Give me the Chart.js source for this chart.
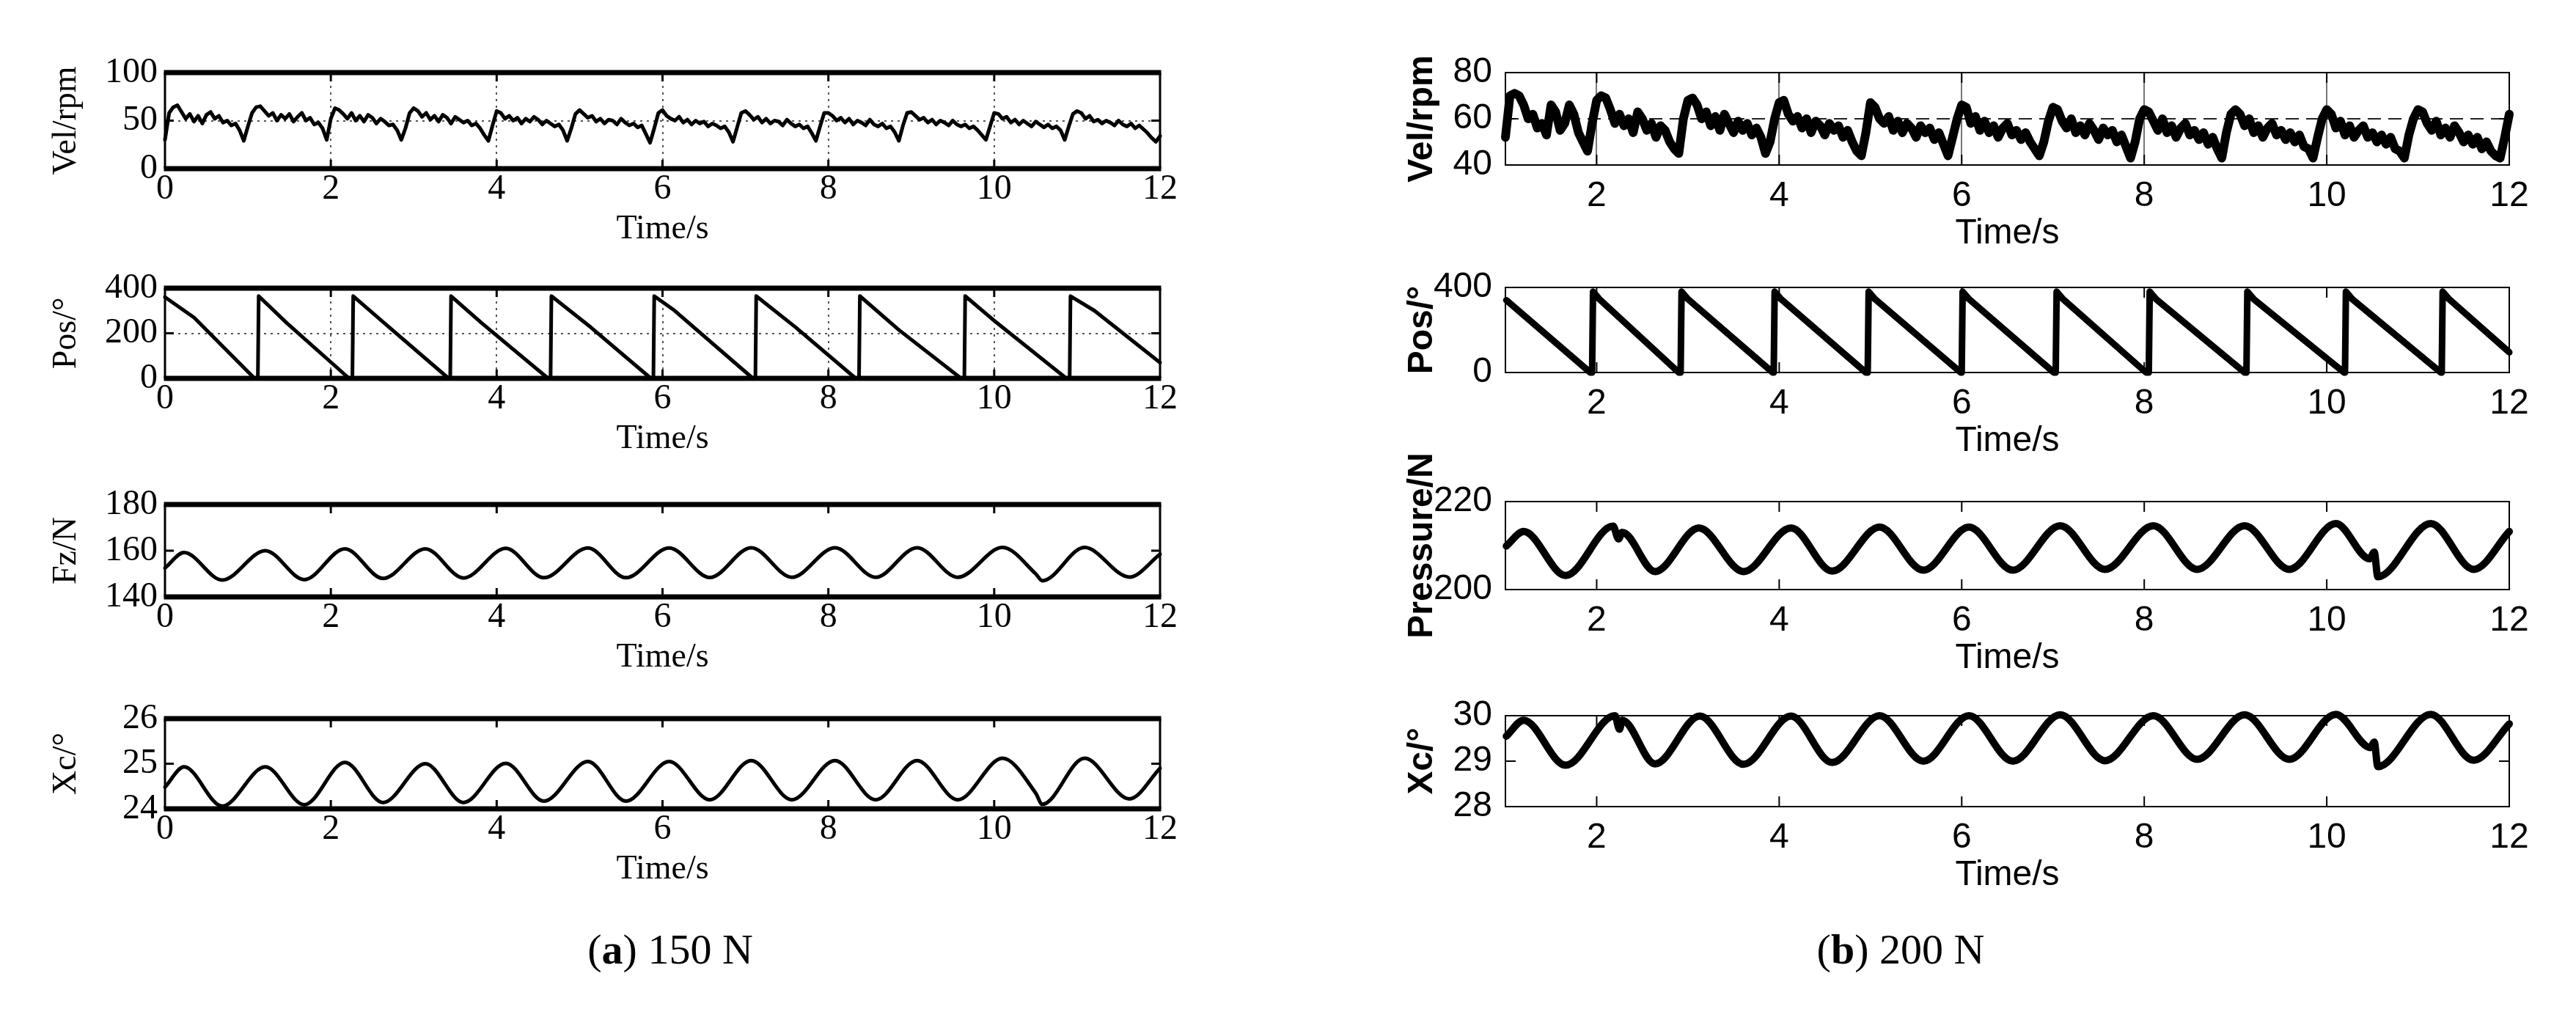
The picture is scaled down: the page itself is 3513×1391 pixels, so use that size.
<!DOCTYPE html>
<html>
<head>
<meta charset="utf-8">
<script src="https://cdn.jsdelivr.net/npm/chart.js@4.4.1/dist/chart.umd.min.js"></script>
<style>
  html, body { margin: 0; padding: 0; background: #fff; }
  #wrap { position: relative; width: 3513px; height: 1391px; overflow: hidden; background: #fff; }
  #wrap canvas { position: absolute; }
  .cap { position: absolute; font-family: "Liberation Serif", "Times New Roman", serif; font-size: 58px;
         transform: translate(-50%, -50%); white-space: nowrap; color: #000; }
</style>
</head>
<body>
<div id="wrap">
  <div class="cap" style="left:914px; top:1294px;">(<b>a</b>) 150 N</div>
  <div class="cap" style="left:2592px; top:1294px;">(<b>b</b>) 200 N</div>
</div>
<script>
// ---- data ----
const xTicksA = [0, 2, 4, 6, 8, 10, 12];
const xTicksB = [2, 4, 6, 8, 10, 12];

// velocity is sampled every 0.05 s
const velStep = 0.05;
const velStartA = 0;
const velStartB = 1;

// (a) 150 N  Vel/rpm, t = 0 .. 12
const velA = [
  30, 58, 64, 66, 59, 52, 57, 49, 55, 47, 56, 59, 52, 55, 48, 50, 45, 47, 40, 29,
  44, 58, 64, 65, 60, 55, 58, 50, 56, 52, 57, 49, 54, 58, 50, 53, 46, 48, 42, 30,
  52, 63, 61, 57, 52, 58, 50, 55, 49, 56, 53, 47, 52, 49, 45, 46, 40, 30, 42, 58,
  63, 60, 54, 58, 51, 55, 49, 56, 53, 47, 54, 51, 48, 50, 45, 47, 42, 35, 29, 45,
  60, 58, 52, 55, 50, 53, 47, 52, 49, 54, 51, 46, 50, 47, 44, 46, 40, 29, 42, 57,
  61, 57, 53, 55, 49, 52, 47, 51, 50, 46, 52, 48, 45, 47, 43, 45, 36, 27, 42, 58,
  61, 55, 52, 50, 54, 48, 51, 46, 50, 47, 49, 44, 47, 45, 42, 44, 38, 28, 43, 58,
  60, 56, 51, 54, 48, 52, 47, 50, 49, 45, 51, 47, 44, 46, 42, 44, 37, 29, 44, 58,
  58, 55, 50, 53, 48, 52, 46, 50, 48, 45, 51, 46, 44, 47, 42, 44, 38, 29, 45, 58,
  59, 55, 51, 53, 48, 51, 46, 50, 48, 45, 50, 46, 44, 46, 42, 44, 40, 35, 30, 44,
  58, 57, 52, 54, 48, 51, 46, 50, 47, 44, 49, 46, 43, 46, 42, 44, 40, 30, 44, 57,
  60, 58, 52, 55, 49, 51, 47, 50, 48, 45, 50, 46, 44, 47, 42, 45, 41, 37, 32, 28,
  34
];

// (b) 200 N  Vel/rpm, t = 1 .. 12
const velB = [
  52, 70, 71, 70, 66, 60, 62, 56, 58, 53, 66, 63, 55, 58, 66, 62, 54, 50, 46, 58,
  68, 70, 69, 64, 58, 62, 57, 60, 54, 63, 60, 55, 58, 52, 57, 55, 50, 47, 45, 60,
  68, 69, 66, 60, 63, 57, 61, 55, 62, 58, 54, 59, 55, 58, 53, 56, 52, 45, 50, 60,
  67, 68, 62, 59, 61, 56, 60, 54, 59, 57, 53, 58, 55, 57, 52, 55, 50, 46, 44, 54,
  67, 65, 60, 58, 61, 55, 59, 54, 58, 56, 52, 57, 54, 56, 51, 54, 49, 44, 52, 60,
  66, 65, 58, 61, 55, 59, 54, 57, 52, 56, 58, 53, 55, 51, 54, 50, 47, 44, 50, 59,
  65, 64, 59, 56, 60, 54, 57, 53, 58, 55, 51, 56, 53, 55, 50, 53, 48, 43, 50, 60,
  64, 63, 59, 55, 60, 54, 57, 52, 56, 58, 53, 55, 51, 54, 49, 52, 47, 43, 54, 62,
  64, 62, 57, 60, 54, 57, 52, 56, 58, 53, 55, 51, 54, 50, 53, 48, 47, 43, 52, 60,
  64, 62, 56, 59, 53, 57, 52, 55, 57, 52, 54, 50, 53, 49, 52, 47, 46, 43, 53, 60,
  64, 63, 58, 55, 59, 53, 56, 52, 57, 54, 50, 53, 49, 52, 47, 50, 46, 44, 43, 52,
  62
];

// (a) Pos/°  (corner points of the saw-tooth)
const posA_t = [0, 0.35, 1.08, 1.12, 1.13, 1.47, 2.22, 2.26, 2.27, 2.63, 3.42, 3.44, 3.45, 3.82, 4.62, 4.65, 4.66, 5.14,
  5.86, 5.89, 5.90, 6.13, 7.09, 7.12, 7.13, 7.60, 8.33, 8.37, 8.38, 8.85, 9.60, 9.64, 9.65, 9.98, 10.87, 10.91, 10.92, 11.21, 12];
const posA_v = [360, 270, 0, 0, 365, 245, 0, 0, 365, 250, 0, 0, 365, 245, 0, 0, 365, 225,
  0, 0, 365, 305, 0, 0, 365, 228, 0, 0, 365, 215, 0, 0, 365, 262, 0, 0, 365, 300, 70];

// (b) Pos/°
const posB_t = [1.01, 1.93, 1.95, 1.96, 2.03, 2.90, 2.92, 2.93, 3.00, 3.93, 3.94, 3.95, 4.02, 4.95, 4.97, 4.98, 5.05,
  5.99, 6.00, 6.01, 6.08, 7.01, 7.03, 7.04, 7.11, 8.02, 8.05, 8.06, 8.13, 9.10, 9.12, 9.13, 9.20,
  10.19, 10.20, 10.21, 10.28, 11.25, 11.26, 11.27, 11.34, 12];
const posB_v = [340, 0, 0, 380, 345, 0, 0, 380, 345, 0, 0, 380, 345, 0, 0, 380, 345,
  0, 0, 380, 345, 0, 0, 380, 345, 0, 0, 380, 345, 0, 0, 380, 345,
  0, 0, 380, 345, 0, 0, 380, 345, 95];

// (a) Fz/N  (peaks and troughs)
const fzA_t = [0, 0.23, 0.69, 1.21, 1.68, 2.17, 2.63, 3.14, 3.60, 4.11, 4.57, 5.10, 5.56, 6.08, 6.57, 7.07, 7.56,
  8.08, 8.57, 9.07, 9.56, 10.10, 10.50, 10.58, 11.09, 11.63, 12];
const fzA_v = [152.5, 159.2, 147.3, 160.0, 147.5, 160.8, 148.0, 160.8, 148.2, 161.0, 148.3, 161.2, 148.3, 161.2, 148.4, 161.3, 148.5,
  161.3, 148.5, 161.3, 148.5, 161.4, 150.0, 147.0, 161.4, 148.6, 158.5];

// (a) Xc/°
const xcA_t = [0, 0.23, 0.69, 1.21, 1.68, 2.17, 2.63, 3.14, 3.60, 4.11, 4.57, 5.10, 5.56, 6.08, 6.57, 7.07, 7.56,
  8.08, 8.57, 9.07, 9.56, 10.10, 10.50, 10.58, 11.09, 11.63, 12];
const xcA_v = [24.48, 24.93, 24.06, 24.93, 24.09, 25.03, 24.14, 25.00, 24.14, 25.01, 24.17, 25.05, 24.17, 25.05, 24.20, 25.07, 24.20,
  25.07, 24.20, 25.07, 24.20, 25.12, 24.35, 24.10, 25.12, 24.22, 24.90];

// (b) Pressure/N
const presB_t = [1.01, 1.20, 1.66, 2.18, 2.24, 2.28, 2.64, 3.12, 3.61, 4.13, 4.58, 5.10, 5.58, 6.08, 6.56, 7.08, 7.57,
  8.10, 8.58, 9.10, 9.59, 10.10, 10.47, 10.52, 10.56, 11.14, 11.61, 12];
const presB_v = [209.9, 213.2, 203.2, 214.4, 211.5, 213.0, 204.1, 214.0, 204.1, 214.0, 204.2, 214.2, 204.4, 214.2, 204.4, 214.5, 204.6,
  214.5, 204.6, 214.5, 204.6, 215.0, 207.0, 208.5, 202.9, 215.0, 204.6, 213.2];

// (b) Xc/°
const xcB_t = [1.01, 1.20, 1.66, 2.20, 2.25, 2.28, 2.64, 3.13, 3.61, 4.13, 4.58, 5.10, 5.58, 6.08, 6.56, 7.08, 7.57,
  8.10, 8.58, 9.10, 9.59, 10.10, 10.48, 10.52, 10.56, 11.14, 11.61, 12];
const xcB_v = [29.55, 29.90, 28.91, 30.00, 29.70, 29.90, 28.94, 29.99, 28.93, 29.99, 28.97, 30.00, 29.00, 30.00, 29.00, 30.02, 29.01,
  30.00, 29.04, 30.02, 29.04, 30.03, 29.30, 29.42, 28.88, 30.03, 29.02, 29.82];

// ---- helpers ----
const pairs = (ts, vs) => ts.map((t, i) => ({ x: t, y: vs[i] }));
const sampled = (start, vs) => vs.map((v, i) => ({ x: +(start + i * velStep).toFixed(2), y: v }));

const PADT = 90, PADR = 60, XH = 140, YW = 200;

const STYLE = {
  a: { font: '"Liberation Serif", "Times New Roman", serif', tick: 48, title: 46, weight: 'normal',
       frameH: 7, frameV: 3, tickLen: 12, tickW: 3, vColor: '#555', vDash: [3, 6], hColor: '#555', hDash: [3, 6],
       ytPad: 38, ytickPad: 10, xtickPad: 0, xtPadB: 29 },
  b: { font: '"Liberation Sans", Arial, sans-serif', tick: 48, title: 48, weight: 'bold',
       frameH: 2, frameV: 2, tickLen: 14, tickW: 2, vColor: '#777', vDash: [], hColor: '#222', hDash: [18, 10],
       ytPad: 58, ytickPad: 18, xtickPad: 14, xtPadB: 17 }
};

const PANELS = [
  { s: 'a', left: 225, top: 99,  w: 1357, h: 131, pts: sampled(velStartA, velA), xr: [0, 12], xt: xTicksA, yr: [0, 100], yt: [0, 50, 100], title: 'Vel/rpm', vgrid: true, hgrid: [50], smooth: false, lw: 5 },
  { s: 'a', left: 225, top: 393, w: 1357, h: 123, pts: pairs(posA_t, posA_v), xr: [0, 12], xt: xTicksA, yr: [0, 400], yt: [0, 200, 400], title: 'Pos/°', vgrid: true, hgrid: [200], smooth: false, lw: 5 },
  { s: 'a', left: 225, top: 688, w: 1357, h: 126, pts: pairs(fzA_t, fzA_v), xr: [0, 12], xt: xTicksA, yr: [140, 180], yt: [140, 160, 180], title: 'Fz/N', vgrid: false, hgrid: [], smooth: true, lw: 5 },
  { s: 'a', left: 225, top: 980, w: 1357, h: 123, pts: pairs(xcA_t, xcA_v), xr: [0, 12], xt: xTicksA, yr: [24, 26], yt: [24, 25, 26], title: 'Xc/°', vgrid: false, hgrid: [], smooth: true, lw: 5 },
  { s: 'b', left: 2053, top: 99,  w: 1369, h: 126, pts: sampled(velStartB, velB), xr: [1, 12], xt: xTicksB, yr: [40, 80], yt: [40, 60, 80], title: 'Vel/rpm', vgrid: true, hgrid: [60], smooth: false, lw: 12 },
  { s: 'b', left: 2053, top: 392, w: 1369, h: 116, pts: pairs(posB_t, posB_v), xr: [1, 12], xt: xTicksB, yr: [0, 400], yt: [0, 200, 400], title: 'Pos/°', vgrid: false, hgrid: [200], smooth: false, lw: 9 },
  { s: 'b', left: 2053, top: 684, w: 1369, h: 120, pts: pairs(presB_t, presB_v), xr: [1, 12], xt: xTicksB, yr: [200, 220], yt: [200, 210, 220], title: 'Pressure/N', vgrid: false, hgrid: [], smooth: true, lw: 10 },
  { s: 'b', left: 2053, top: 976, w: 1369, h: 124, pts: pairs(xcB_t, xcB_v), xr: [1, 12], xt: xTicksB, yr: [28, 30], yt: [28, 29, 30], title: 'Xc/°', vgrid: false, hgrid: [], smooth: true, lw: 10 }
];

// box frame with inward tick marks, MATLAB style
const framePlugin = {
  id: 'frame',
  afterDatasetsDraw(chart, args, o) {
    const { ctx, chartArea: a, scales: { x, y } } = chart;
    const seg = (x1, y1, x2, y2) => { ctx.beginPath(); ctx.moveTo(x1, y1); ctx.lineTo(x2, y2); ctx.stroke(); };
    ctx.save();
    ctx.strokeStyle = '#000';
    ctx.lineWidth = o.tickW;
    x.ticks.forEach(t => {
      const px = x.getPixelForValue(t.value);
      if (px < a.left + 4 || px > a.right - 4) return;
      seg(px, a.top, px, a.top + o.tickLen);
      seg(px, a.bottom, px, a.bottom - o.tickLen);
    });
    y.ticks.forEach(t => {
      const py = y.getPixelForValue(t.value);
      if (py < a.top + 4 || py > a.bottom - 4) return;
      seg(a.left, py, a.left + o.tickLen, py);
      seg(a.right, py, a.right - o.tickLen, py);
    });
    ctx.lineWidth = o.frameV;
    seg(a.left, a.top, a.left, a.bottom);
    seg(a.right, a.top, a.right, a.bottom);
    ctx.lineWidth = o.frameH;
    seg(a.left - o.frameV / 2, a.top, a.right + o.frameV / 2, a.top);
    seg(a.left - o.frameV / 2, a.bottom, a.right + o.frameV / 2, a.bottom);
    ctx.restore();
  }
};

const wrap = document.getElementById('wrap');
const clear = 'rgba(0,0,0,0)';

PANELS.forEach(p => {
  const st = STYLE[p.s];
  const cv = document.createElement('canvas');
  const cw = p.w + YW + PADR, ch = PADT + p.h + XH;
  cv.width = cw; cv.height = ch;
  cv.style.left = (p.left - YW) + 'px';
  cv.style.top = (p.top - PADT) + 'px';
  cv.style.width = cw + 'px'; cv.style.height = ch + 'px';
  wrap.appendChild(cv);

  new Chart(cv, {
    type: 'line',
    data: {
      datasets: [{
        data: p.pts,
        borderColor: '#000',
        borderWidth: p.lw,
        pointRadius: 0,
        borderJoinStyle: 'round',
        borderCapStyle: 'round',
        cubicInterpolationMode: p.smooth ? 'monotone' : 'default',
        tension: 0,
        clip: 10
      }]
    },
    options: {
      responsive: false,
      animation: false,
      devicePixelRatio: 1,
      layout: { padding: { top: PADT, right: PADR, left: 0, bottom: 0 } },
      plugins: {
        legend: { display: false },
        tooltip: { enabled: false },
        frame: { frameH: st.frameH, frameV: st.frameV, tickLen: st.tickLen, tickW: st.tickW }
      },
      scales: {
        x: {
          type: 'linear',
          min: p.xr[0], max: p.xr[1],
          afterBuildTicks: s => { s.ticks = p.xt.map(v => ({ value: v })); },
          afterFit: s => { s.height = XH; },
          ticks: { color: '#000', padding: st.xtickPad, maxRotation: 0, autoSkip: false,
                   font: { family: st.font, size: st.tick } },
          grid: {
            drawTicks: false,
            lineWidth: 2,
            color: c => (p.vgrid && c.tick && c.tick.value > p.xr[0] && c.tick.value < p.xr[1]) ? st.vColor : clear
          },
          border: { display: false, dash: st.vDash },
          title: { display: true, text: 'Time/s', color: '#000', padding: { top: 0, bottom: st.xtPadB },
                   font: { family: st.font, size: st.title, weight: 'normal' } }
        },
        y: {
          min: p.yr[0], max: p.yr[1],
          afterBuildTicks: s => { s.ticks = p.yt.map(v => ({ value: v })); },
          afterFit: s => { s.width = YW; },
          ticks: { color: '#000', padding: st.ytickPad, font: { family: st.font, size: st.tick } },
          grid: {
            drawTicks: false,
            lineWidth: 2,
            color: c => (c.tick && p.hgrid.includes(c.tick.value)) ? st.hColor : clear
          },
          border: { display: false, dash: st.hDash },
          title: { display: true, text: p.title, color: '#000', padding: { top: st.ytPad, bottom: 0 },
                   font: { family: st.font, size: st.title, weight: st.weight } }
        }
      }
    },
    plugins: [framePlugin]
  });
});
</script>
</body>
</html>
